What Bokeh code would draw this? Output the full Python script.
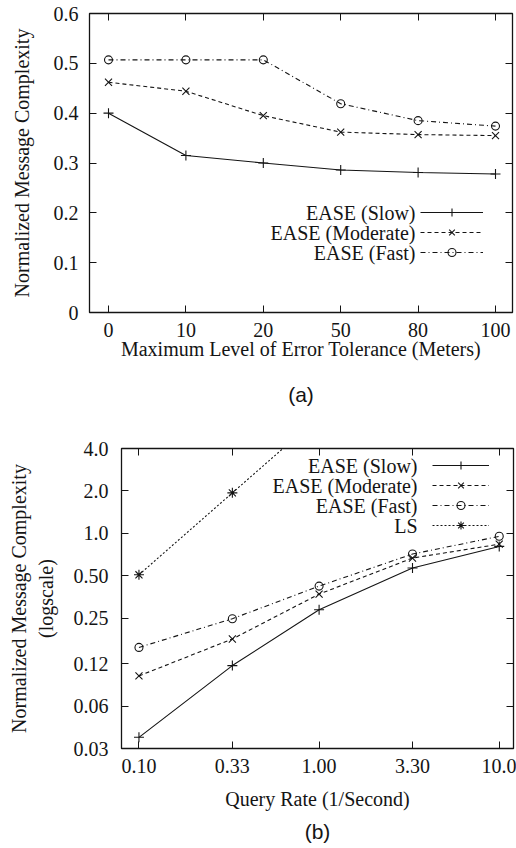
from bokeh.plotting import figure
from bokeh.models import (Range1d, FixedTicker, LinearAxis, LogAxis, Legend, LegendItem,
                          Title, Label, CustomJSTickFormatter)
from bokeh.embed import file_html
from bokeh.resources import INLINE

SERIF = "Liberation Serif"
SANS = "Liberation Sans"
INK = "#141414"

# ---------------- data: panel (a) ----------------
tolerance_labels = ["0", "10", "20", "50", "80", "100"]
slow_a = [0.400, 0.315, 0.300, 0.286, 0.281, 0.278]
moderate_a = [0.462, 0.444, 0.395, 0.362, 0.357, 0.355]
fast_a = [0.507, 0.507, 0.507, 0.419, 0.385, 0.374]
y_ticks_a = [0, 0.1, 0.2, 0.3, 0.4, 0.5, 0.6]
y_tick_labels_a = ["0", "0.1", "0.2", "0.3", "0.4", "0.5", "0.6"]

# ---------------- data: panel (b) ----------------
query_rate = [0.10, 0.33, 1.00, 3.30, 10.0]
query_rate_labels = ["0.10", "0.33", "1.00", "3.30", "10.0"]
slow_b = [0.036, 0.116, 0.288, 0.570, 0.810]
moderate_b = [0.098, 0.179, 0.372, 0.670, 0.840]
fast_b = [0.156, 0.249, 0.424, 0.715, 0.955]
ls_b = [0.51, 1.94, 6.7]
y_ticks_b = [0.03, 0.06, 0.12, 0.25, 0.5, 1.0, 2.0, 4.0]
y_tick_labels_b = ["0.03", "0.06", "0.12", "0.25", "0.50", "1.0", "2.0", "4.0"]

series_names = ["EASE (Slow)", "EASE (Moderate)", "EASE (Fast)", "LS"]
dashes = ["solid", "4 3", "5 3 1 3", "2 2"]
markers = ["cross", "x", "circle", "asterisk"]
msizes = [10, 10, 8, 10]


def style_main_axis(ax, ticks, labels, standoff):
    ax.ticker = FixedTicker(ticks=ticks)
    ax.major_label_overrides = {t: l for t, l in zip(ticks, labels)}
    ax.major_tick_in = 7
    ax.major_tick_out = 0
    ax.major_tick_line_color = INK
    ax.minor_tick_line_color = None
    ax.axis_line_color = None
    ax.major_label_text_font = SERIF
    ax.major_label_text_font_size = "20px"
    ax.major_label_text_color = INK
    ax.major_label_standoff = standoff
    ax.axis_label_text_font = SERIF
    ax.axis_label_text_font_size = "20px"
    ax.axis_label_text_font_style = "normal"
    ax.axis_label_text_color = INK


def mirror_axis(cls, ticks):
    ax = cls(ticker=FixedTicker(ticks=ticks),
             formatter=CustomJSTickFormatter(code="return ''"))
    ax.major_tick_in = 7
    ax.major_tick_out = 0
    ax.major_tick_line_color = INK
    ax.minor_tick_line_color = None
    ax.axis_line_color = None
    ax.major_label_standoff = 0
    ax.major_label_text_font_size = "1px"
    return ax


def add_series(p, xs, ys, k):
    ln = p.line(xs, ys, line_color=INK, line_width=1.1, line_dash=dashes[k])
    sc = p.scatter(xs, ys, marker=markers[k], size=msizes[k], line_color=INK,
                   fill_color=None, line_width=1.1)
    return LegendItem(label=" ", renderers=[ln, sc])


def make_legend(p, items, glyph_w, row_h, loc, text_right, text_top, n):
    # glyph samples drawn by a Legend; the right-aligned names sit to their left
    lg = Legend(items=items, location=loc, orientation="vertical")
    lg.glyph_width = glyph_w
    lg.glyph_height = row_h
    lg.label_height = 4
    lg.label_width = 1
    lg.spacing = 0
    lg.padding = 0
    lg.margin = 0
    lg.label_standoff = 0
    lg.label_text_font_size = "4px"
    lg.border_line_color = None
    lg.background_fill_alpha = 0
    p.add_layout(lg)
    for k in range(n):
        p.add_layout(Label(x=text_right, y=text_top - row_h * k - row_h / 2,
                           x_units="screen", y_units="screen", text=series_names[k],
                           text_align="right", text_baseline="middle",
                           text_font=SERIF, text_font_size="20px", text_color=INK))


# ---------------- panel (a) ----------------
xa = list(range(len(tolerance_labels)))
pa = figure(width=516, height=422, output_backend="svg", toolbar_location=None,
            x_range=Range1d(-0.2455, 5.2196), y_range=Range1d(0, 0.6),
            min_border_left=89, min_border_right=4, min_border_top=13, min_border_bottom=110)
pa.grid.visible = False
pa.outline_line_color = INK
pa.outline_line_width = 1.3
style_main_axis(pa.xaxis[0], xa, tolerance_labels, 10)
style_main_axis(pa.yaxis[0], y_ticks_a, y_tick_labels_a, 11)
pa.xaxis[0].axis_label = "Maximum Level of Error Tolerance (Meters)"
pa.xaxis[0].axis_label_standoff = -2
pa.yaxis[0].axis_label = "Normalized Message Complexity"
pa.yaxis[0].axis_label_standoff = 18
pa.add_layout(mirror_axis(LinearAxis, y_ticks_a), "right")
pa.add_layout(mirror_axis(LinearAxis, xa), "above")

items_a = [add_series(pa, xa, slow_a, 0),
           add_series(pa, xa, moderate_a, 1),
           add_series(pa, xa, fast_a, 2)]
make_legend(pa, items_a, 63, 20, (331, 50), 326, 110, 3)
# thin spacer title pushes the "(a)" caption a few pixels lower
pa.add_layout(Title(text=" ", text_font_size="5px", standoff=0), "below")
pa.add_layout(Title(text="(a)", align="center", text_font=SANS, text_font_size="21px",
                    text_font_style="normal", text_color=INK, offset=5, standoff=20), "below")

# ---------------- panel (b) ----------------
pb = figure(width=516, height=426, output_backend="svg", toolbar_location=None,
            x_axis_type="log", y_axis_type="log",
            x_range=Range1d(0.08, 12), y_range=Range1d(0.03, 4.0),
            min_border_left=121, min_border_right=3, min_border_top=26, min_border_bottom=100)
pb.grid.visible = False
pb.outline_line_color = INK
pb.outline_line_width = 1.3
style_main_axis(pb.xaxis[0], query_rate, query_rate_labels, 10)
style_main_axis(pb.yaxis[0], y_ticks_b, y_tick_labels_b, 13)
pb.xaxis[0].axis_label = "Query Rate (1/Second)"
pb.xaxis[0].axis_label_standoff = 12
pb.yaxis[0].axis_label = "Normalized Message Complexity\n(logscale)"
pb.yaxis[0].axis_label_standoff = 14
pb.add_layout(mirror_axis(LogAxis, y_ticks_b), "right")
pb.add_layout(mirror_axis(LogAxis, query_rate), "above")

items_b = [add_series(pb, query_rate, slow_b, 0),
           add_series(pb, query_rate, moderate_b, 1),
           add_series(pb, query_rate, fast_b, 2),
           add_series(pb, query_rate[:len(ls_b)], ls_b, 3)]
make_legend(pb, items_b, 57, 20, (311, 213), 296, 293, 4)
pb.add_layout(Title(text="(b)", align="center", text_font=SANS, text_font_size="21px",
                    text_font_style="normal", text_color=INK, offset=-10, standoff=10), "below")

open("out.html", "w").write(file_html([pa, pb], INLINE))
